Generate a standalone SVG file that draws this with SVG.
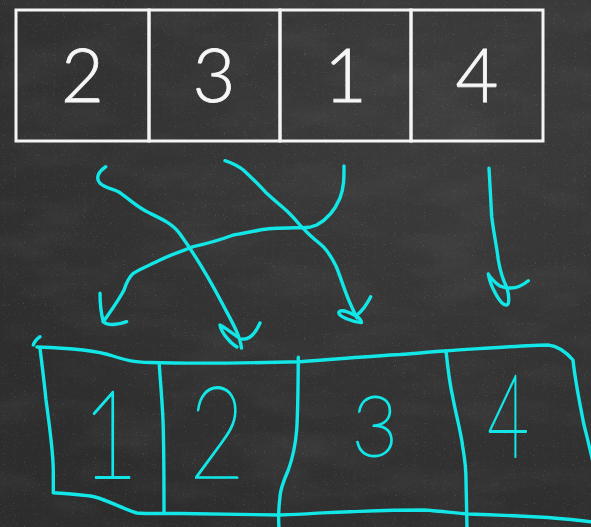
<svg xmlns="http://www.w3.org/2000/svg" width="591" height="527" viewBox="0 0 591 527">
  <defs>
    <style>
      .cell { fill: none; stroke: #f4f4f4; stroke-width: 3; }
      .num { fill: #f6f6f6; font-family: Lato, "Open Sans", "Liberation Sans", sans-serif; font-weight: 300; font-size: 74px; text-anchor: middle; stroke: #f6f6f6; stroke-width: 0.8; }
      .chalk { fill: none; stroke: #12e6e6; stroke-width: 3.4; stroke-linecap: round; stroke-linejoin: round; }
      .hand { fill: #12e6e6; stroke: #12e6e6; stroke-width: 1.8; stroke-linejoin: round; font-family: Lato, "DejaVu Sans", sans-serif; font-weight: 100; text-anchor: middle; }
    </style>
    <radialGradient id="bg" cx="0.75" cy="0.2" r="0.9">
      <stop offset="0" stop-color="#3d3d3d"/>
      <stop offset="1" stop-color="#2d2d2d"/>
    </radialGradient>
    <filter id="specks" x="0" y="0" width="1" height="1">
      <feTurbulence type="fractalNoise" baseFrequency="0.9" numOctaves="1" seed="4" result="n"/>
      <feColorMatrix in="n" type="matrix" values="0 0 0 0 1  0 0 0 0 1  0 0 0 0 1  4 0 0 0 -2.6"/>
    </filter>
    <filter id="mottle" x="0" y="0" width="1" height="1">
      <feTurbulence type="fractalNoise" baseFrequency="0.012 0.03" numOctaves="3" seed="7" result="m"/>
      <feColorMatrix in="m" type="matrix" values="0 0 0 0 1  0 0 0 0 1  0 0 0 0 1  1.2 0 0 0 -0.5"/>
    </filter>
  </defs>

  <!-- chalkboard -->
  <rect width="591" height="527" fill="url(#bg)"/>
  <rect width="591" height="527" filter="url(#mottle)" opacity="0.08"/>
  <rect width="591" height="527" filter="url(#specks)" opacity="0.22"/>

  <!-- top array -->
  <g id="top-array">
    <g id="cell-2">
      <rect class="cell" x="16" y="10" width="133" height="131"/>
      <text class="num" x="82.5" y="102">2</text>
    </g>
    <g id="cell-3">
      <rect class="cell" x="149" y="10" width="131" height="131"/>
      <text class="num" x="214" y="102">3</text>
    </g>
    <g id="cell-1">
      <rect class="cell" x="280" y="10" width="131" height="131"/>
      <text class="num" x="345.5" y="102">1</text>
    </g>
    <g id="cell-4">
      <rect class="cell" x="411" y="10" width="132" height="131"/>
      <text class="num" x="477" y="102">4</text>
    </g>
  </g>

  <!-- connectors -->
  <g id="connectors" class="chalk">
    <!-- 2 -> slot 2 -->
    <path d="M105.7,166.7 C99,171 95,178 100,183.3 C105,188 113,189 118.3,191.7 C126,196 136,207 150,213.3 C162,219 173,224 180,234 C193,252 211,282 222,303 C232,322 240,335 241.5,348"/>
    <path d="M238,337 C232,333 224,327 220,325 C221,332 230,343 237,347 M242,339 C250,340 256,332 260,323"/>
    <!-- 3 -> slot 3 -->
    <path d="M225,160.7 C232,163 238,166 243.3,170 C252,178 259,185 266.7,193.3 C276,202 284,208 290,214 C297,221 300,226 303.3,228.3 C310,236 318,242 323.3,246.7 C330,254 333,260 336,266 C341,278 345,292 350,303 C353,310 356,316 357,318"/>
    <path d="M356,316 C349,312 341,309 339,312 C337,316 352,322 361.5,322.5 C361,319 358,317 356,316 M357,315 C362,311 367,304 370.7,296.7"/>
    <!-- 1 -> slot 1 -->
    <path d="M344,166 C344,178 344,188 340,198 C335,210 326,220 316.7,225 C310,228 305,228 300,227.7 C285,228 270,228 260,230 C250,232 240,234 233.3,235 C220,240 205,244 193.3,246.7 C182,251 170,255 160,260 C150,265 138,270 133.3,273.3 C128,278 126,284 124,290 C119,300 110,312 103.3,321.7"/>
    <path d="M100,293.3 C100,303 101,313 103.3,321.7 C108,326 118,325 126.7,321.7"/>
    <!-- 4 -> slot 4 -->
    <path d="M489,168.3 C490,185 491,205 491.7,216.7 C494,235 497,248 498.3,260 C500,270 503,280 507,288 C509,295 510,305 506,305 C500,305 490,285 488.3,274 C489,276 495,283 500,286 C504,288 508,288 511,288 C517,288 523,285 528.3,280.7"/>
  </g>

  <!-- hand-drawn sorted array -->
  <g id="sorted-array" class="chalk">
    <path d="M33.3,345 C35,340 38,338 40,336.7"/>
    <path d="M37,347 C70,348 95,350 113,356 C125,360 133,362 150,362.5 C200,364 250,363 300,361.7 C340,359 370,356 400,354.5 C420,353 440,351 448,350.7 C490,348 530,345 548,345 C558,346 566,352 573,360 C575,380 580,405 584,425 C588,440 590,450 593,462"/>
    <path d="M40,348.3 C42,365 44,380 46,400 C50,430 53,450 53.3,470 L53.3,492.7 C70,494 86.7,495 95,497 C110,501 125,510 137,513 C150,514 164,513.3 180,513.5 C230,514 260,515 280,515 C310,514 330,512 350,511.7 C370,511 390,510 424,510 C440,511 455,513 468,514 C500,515 520,516 538,517 C560,518 575,520 593,522"/>
    <path d="M159.3,365 C161,390 163,410 163.3,430 C164,460 164,490 164,513.3"/>
    <path d="M298.3,357.3 C298,390 298,410 296.7,430 C295,450 292,460 288.3,470 C284,480 280,490 280,497 C279,505 278,515 279,528"/>
    <path d="M446,350.7 C448,370 450,385 452.7,396.7 C456,415 461,432 462.7,446.7 C465,460 466,470 466,480 L467,528"/>
  </g>
  <g id="sorted-labels">
    <text class="hand" x="110" y="478" font-size="122" transform="translate(110 0) scale(0.8 1) translate(-110 0)">1</text>
    <text class="hand" x="217" y="478" font-size="128" transform="translate(217 0) scale(0.75 1) translate(-217 0)">2</text>
    <text class="hand" x="375" y="456" font-size="84" transform="translate(375 0) scale(0.95 1) translate(-375 0)">3</text>
    <text class="hand" x="508" y="457" font-size="116" transform="translate(508 0) scale(0.62 1) translate(-508 0)">4</text>
  </g>
</svg>
